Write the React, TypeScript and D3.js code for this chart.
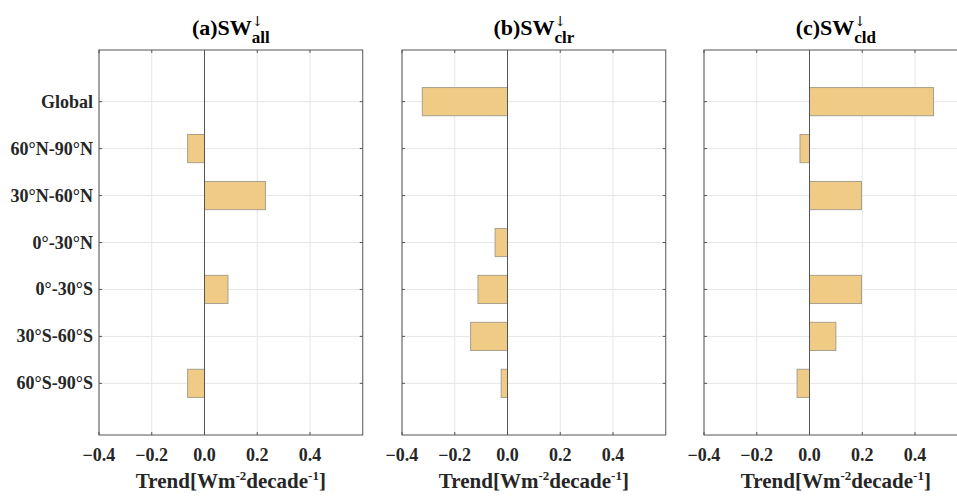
import React, { useEffect, useRef } from "react";
import * as d3 from "d3";

const regions = ["Global", "60°N-90°N", "30°N-60°N", "0°-30°N", "0°-30°S", "30°S-60°S", "60°S-90°S"];
const swAll = [0, -0.064, 0.231, 0, 0.089, 0, -0.064];
const swClr = [-0.323, 0, 0, -0.047, -0.112, -0.14, -0.024];
const swCld = [0.47, -0.036, 0.197, 0, 0.197, 0.1, -0.047];
const xTicks = [-0.4, -0.2, 0, 0.2, 0.4];
const panelLabels = ["(a)", "(b)", "(c)"];
const panelSubs = ["all", "clr", "cld"];

const W = 957;
const H = 498;
const FONT = "'Liberation Serif', 'Times New Roman', serif";

const App = () => {
  const svgRef = useRef<SVGSVGElement>(null);

  useEffect(() => {
    const svg = d3.select(svgRef.current);
    svg.selectAll("*").remove();

    const series = [swAll, swClr, swCld];
    const lefts = [99, 402, 704];
    const pw = 263.75;
    const top = 50;
    const bottom = 435;

    const y = d3.scaleLinear().domain([-1.1, 7.1]).range([top, bottom]);
    const step = y(1) - y(0);

    series.forEach((vals, p) => {
      const x = d3.scaleLinear().domain([-0.4, 0.6]).range([lefts[p], lefts[p] + pw]);
      const g = svg.append("g");

      // grid
      g.selectAll(".vg")
        .data(xTicks)
        .enter()
        .append("line")
        .attr("x1", (d) => x(d))
        .attr("x2", (d) => x(d))
        .attr("y1", top)
        .attr("y2", bottom)
        .attr("stroke", "#e6e6e6")
        .attr("stroke-width", 1);
      g.selectAll(".hg")
        .data(regions)
        .enter()
        .append("line")
        .attr("x1", x(-0.4))
        .attr("x2", x(0.6))
        .attr("y1", (_, i) => y(i))
        .attr("y2", (_, i) => y(i))
        .attr("stroke", "#e6e6e6")
        .attr("stroke-width", 1);

      // bars
      g.selectAll(".bar")
        .data(vals.map((v, i) => ({ v, i })).filter((d) => d.v !== 0))
        .enter()
        .append("rect")
        .attr("x", (d) => x(Math.min(0, d.v)))
        .attr("width", (d) => Math.abs(x(d.v) - x(0)))
        .attr("y", (d) => y(d.i) - step * 0.3)
        .attr("height", step * 0.6)
        .attr("fill", "#efcb85")
        .attr("stroke", "#a8a08c")
        .attr("stroke-width", 1);

      // baseline at zero
      g.append("line")
        .attr("x1", x(0))
        .attr("x2", x(0))
        .attr("y1", top)
        .attr("y2", bottom)
        .attr("stroke", "#555")
        .attr("stroke-width", 1);

      // box
      g.append("rect")
        .attr("x", x(-0.4))
        .attr("y", top)
        .attr("width", pw)
        .attr("height", bottom - top)
        .attr("fill", "none")
        .attr("stroke", "#555")
        .attr("stroke-width", 1);

      // ticks
      xTicks.forEach((t) => {
        g.append("line").attr("x1", x(t)).attr("x2", x(t)).attr("y1", top).attr("y2", top + 3).attr("stroke", "#555");
        g.append("line").attr("x1", x(t)).attr("x2", x(t)).attr("y1", bottom).attr("y2", bottom - 3).attr("stroke", "#555");
      });
      regions.forEach((_, i) => {
        g.append("line").attr("x1", x(-0.4)).attr("x2", x(-0.4) + 3).attr("y1", y(i)).attr("y2", y(i)).attr("stroke", "#555");
        g.append("line").attr("x1", x(0.6)).attr("x2", x(0.6) - 3).attr("y1", y(i)).attr("y2", y(i)).attr("stroke", "#555");
      });

      // x tick labels
      g.selectAll(".xt")
        .data(xTicks)
        .enter()
        .append("text")
        .attr("x", (d) => x(d))
        .attr("y", 461)
        .attr("text-anchor", "middle")
        .attr("font-family", FONT)
        .attr("font-weight", "bold")
        .attr("font-size", 18)
        .attr("fill", "#262626")
        .text((d) => d3.format(".1f")(d));

      // y tick labels, first panel only
      if (p === 0) {
        g.selectAll(".yt")
          .data(regions)
          .enter()
          .append("text")
          .attr("x", x(-0.4) - 6)
          .attr("y", (_, i) => y(i) + 6)
          .attr("text-anchor", "end")
          .attr("font-family", FONT)
          .attr("font-weight", "bold")
          .attr("font-size", 18)
          .attr("fill", "#262626")
          .text((d) => d);
      }

      // x axis label
      const cx = x(0.1);
      const xl = g
        .append("text")
        .attr("x", cx)
        .attr("y", 488)
        .attr("text-anchor", "middle")
        .attr("font-family", FONT)
        .attr("font-weight", "bold")
        .attr("font-size", 21)
        .attr("fill", "#262626");
      xl.append("tspan").text("Trend[Wm");
      xl.append("tspan").attr("font-size", 13).attr("dy", -8).text("-2");
      xl.append("tspan").attr("dy", 8).text("decade");
      xl.append("tspan").attr("font-size", 13).attr("dy", -8).text("-1");
      xl.append("tspan").attr("dy", 8).text("]");

      // title
      const main = g
        .append("text")
        .attr("y", 35)
        .attr("font-family", FONT)
        .attr("font-weight", "bold")
        .attr("font-size", 22)
        .attr("fill", "#000")
        .text(panelLabels[p] + "SW");
      const sub = g
        .append("text")
        .attr("y", 43)
        .attr("font-family", FONT)
        .attr("font-weight", "bold")
        .attr("font-size", 17)
        .attr("fill", "#000")
        .text(panelSubs[p]);
      const mw = (main.node() as SVGTextElement).getComputedTextLength();
      const sw = (sub.node() as SVGTextElement).getComputedTextLength();
      const start = cx - (mw + sw) / 2;
      main.attr("x", start);
      sub.attr("x", start + mw);
      g.append("text")
        .attr("x", start + mw)
        .attr("y", 26)
        .attr("font-family", "'DejaVu Serif', serif")
        .attr("font-size", 14)
        .attr("fill", "#000")
        .text("\u2193\uFE0E");
    });
  }, []);

  return (
    <svg
      ref={svgRef}
      width={W}
      height={H}
      style={{ position: "absolute", left: 0, top: 0, background: "#fff" }}
    />
  );
};

export default App;
